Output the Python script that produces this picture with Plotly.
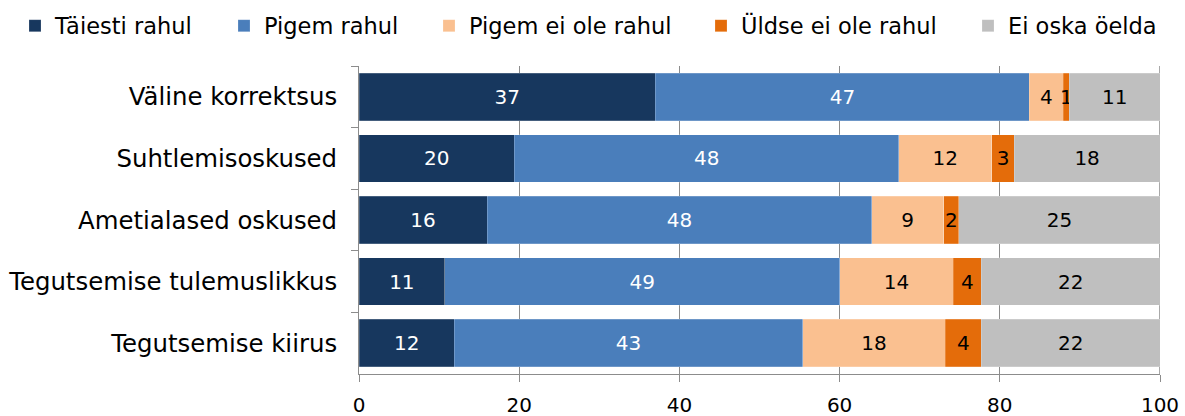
import plotly.graph_objects as go

categories = ['Väline korrektsus', 'Suhtlemisoskused', 'Ametialased oskused',
              'Tegutsemise tulemuslikkus', 'Tegutsemise kiirus']

series_names = ['Täiesti rahul', 'Pigem rahul', 'Pigem ei ole rahul',
                'Üldse ei ole rahul', 'Ei oska öelda']

# bar lengths (percent)
taiesti = [37.0, 19.4, 16.0, 10.7, 11.9]
pigem = [46.7, 48.0, 48.0, 49.3, 43.5]
pigem_ei = [4.2, 11.6, 9.0, 14.2, 17.8]
uldse_ei = [0.8, 2.8, 1.9, 3.5, 4.5]
ei_oska = [11.3, 18.2, 25.1, 22.3, 22.3]

# numbers printed on the bars
taiesti_lbl = [37, 20, 16, 11, 12]
pigem_lbl = [47, 48, 48, 49, 43]
pigem_ei_lbl = [4, 12, 9, 14, 18]
uldse_ei_lbl = [1, 3, 2, 4, 4]
ei_oska_lbl = [11, 18, 25, 22, 22]

x_ticks = [0, 20, 40, 60, 80, 100]

colors = ['#17375E', '#4A7EBB', '#FAC090', '#E46C0A', '#BFBFBF']
text_colors = ['white', 'white', 'black', 'black', 'black']

values = [taiesti, pigem, pigem_ei, uldse_ei, ei_oska]
labels = [taiesti_lbl, pigem_lbl, pigem_ei_lbl, uldse_ei_lbl, ei_oska_lbl]

# one legend per series so the entries sit where the original has them
legend_ids = ['legend', 'legend2', 'legend3', 'legend4', 'legend5']
legend_text_x = [51, 260, 465, 737, 1004]   # px where each legend label starts

W, H = 1185, 416
FONT = 'DejaVu Sans'

fig = go.Figure()
for name, vals, lbls, col, tcol, leg in zip(series_names, values, labels, colors,
                                            text_colors, legend_ids):
    fig.add_trace(go.Bar(
        y=categories, x=vals, name=name, orientation='h', legend=leg,
        marker=dict(color=col, line=dict(color='rgba(255,255,255,0.4)', width=0.5)),
        text=[str(v) for v in lbls], textposition='inside', insidetextanchor='middle',
        textfont=dict(family=FONT, size=20, color=tcol),
        constraintext='none', cliponaxis=False,
    ))

legends = {}
for leg, tx in zip(legend_ids, legend_text_x):
    legends[leg] = dict(orientation='h', xref='container', x=(tx - 36) / W, xanchor='left',
                        yref='container', y=1 - 26 / H, yanchor='middle',
                        font=dict(family=FONT, size=22.5), itemwidth=30,
                        bgcolor='rgba(0,0,0,0)')

fig.update_layout(
    barmode='stack', bargap=0.23,
    width=W, height=H,
    margin=dict(l=359, r=25, t=66, b=42, autoexpand=False),
    plot_bgcolor='white', paper_bgcolor='white',
    font=dict(family=FONT, color='black'),
    showlegend=True,
    **legends,
)

fig.update_xaxes(
    range=[0, 100], tickvals=x_ticks, showgrid=True, gridcolor='#8C8C8C', gridwidth=1,
    showline=True, linecolor='#8C8C8C', ticks='outside', tickcolor='#8C8C8C', ticklen=7,
    tickfont=dict(family=FONT, size=20), ticklabelstandoff=6, zeroline=False,
)
fig.update_yaxes(
    autorange='reversed', showline=True, linecolor='#8C8C8C', ticks='outside',
    tickson='boundaries', tickcolor='#8C8C8C', ticklen=7,
    tickfont=dict(family=FONT, size=24.4), ticklabelstandoff=16,
)
# right border line at 100
fig.add_shape(type='line', xref='x', yref='paper', x0=100, x1=100, y0=0, y1=1,
              line=dict(color='#8C8C8C', width=1.5), layer='below')

fig.write_html('out.html', config={'displayModeBar': False},
               post_script="document.body.style.margin='0';")
